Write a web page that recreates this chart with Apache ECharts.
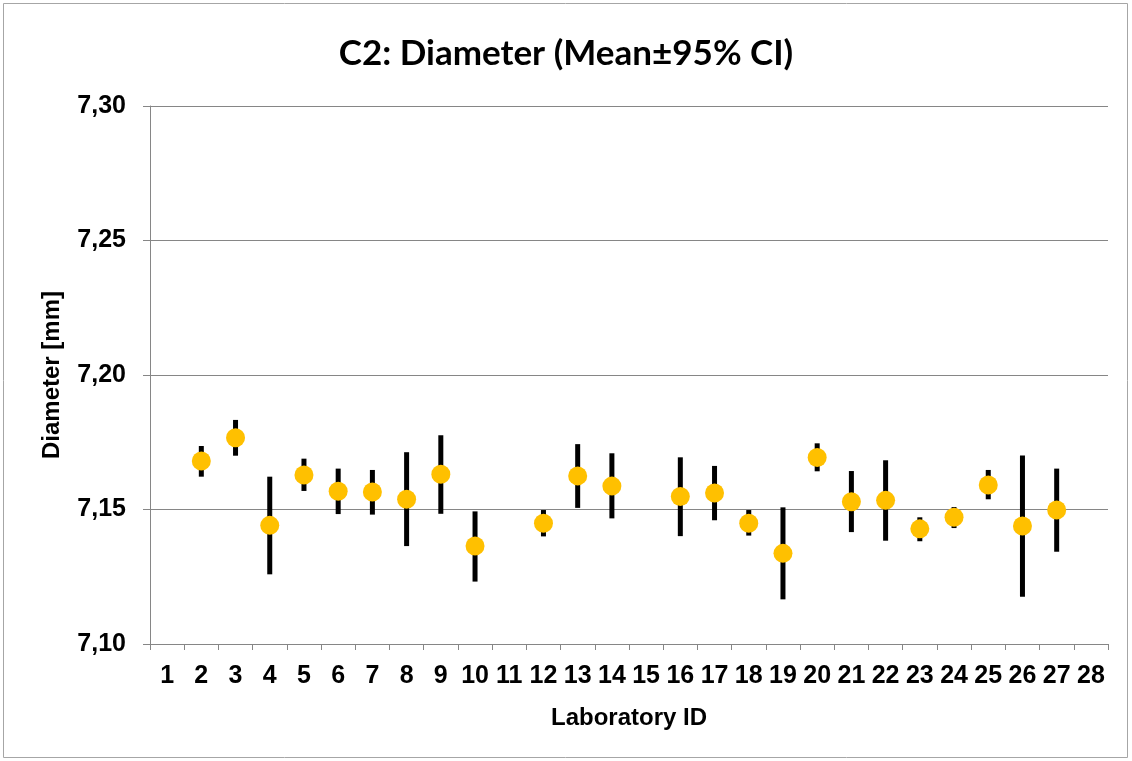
<!DOCTYPE html>
<html><head><meta charset="utf-8">
<script src="https://cdn.jsdelivr.net/npm/echarts@6/dist/echarts.min.js"></script>
<style>html,body{margin:0;padding:0;background:#fff}#c{width:1132px;height:761px}</style>
</head><body><div id="c"></div>
<script>
var labs = ['1','2','3','4','5','6','7','8','9','10','11','12','13','14','15','16','17','18','19','20','21','22','23','24','25','26','27','28'];
var means = [null,7.1680,7.1767,7.1441,7.1628,7.1568,7.1565,7.1538,7.1631,7.1364,null,7.1449,7.1625,7.1587,null,7.1548,7.1561,7.1449,7.1337,7.1693,7.1529,7.1534,7.1428,7.1471,7.1591,7.1439,7.1498,null];
var upper = [null,7.1736,7.1833,7.1622,7.1689,7.1652,7.1647,7.1713,7.1776,7.1493,null,7.1498,7.1743,7.1709,null,7.1694,7.1662,7.1498,7.1508,7.1746,7.1643,7.1683,7.1471,7.1509,7.1647,7.1701,7.1652,null];
var lower = [null,7.1622,7.1700,7.1259,7.1569,7.1483,7.1481,7.1364,7.1484,7.1232,null,7.1400,7.1506,7.1467,null,7.1401,7.1460,7.1403,7.1166,7.1642,7.1416,7.1384,7.1382,7.1431,7.1538,7.1176,7.1343,null];
var yTicks = [7.10,7.15,7.20,7.25,7.30];

var errData = [];
for (var i=0;i<labs.length;i++){ if(means[i]!==null) errData.push([i, lower[i], upper[i]]); }
var meanData = [];
for (var j=0;j<labs.length;j++){ if(means[j]!==null) meanData.push([j, means[j]]); }

var font = '"Liberation Sans", Arial, sans-serif';
var chart = echarts.init(document.getElementById('c'), null, {renderer:'canvas'});
chart.setOption({
  backgroundColor:'#fff',
  animation:false,
  graphic:[{type:'rect', shape:{x:3.5,y:3.5,width:1124,height:754}, style:{fill:'none', stroke:'#a6a6a6', lineWidth:1}}],
  title:{text:'C2: Diameter (Mean\u00b195% CI)', left:'center', top:31,
    textStyle:{fontFamily:'Lato, "Open Sans", sans-serif', fontWeight:'bold', fontSize:35, color:'#000'}},
  grid:{left:150, right:24, top:106, bottom:117},
  xAxis:{type:'category', data:labs, boundaryGap:true,
    name:'Laboratory ID', nameLocation:'middle', nameGap:62,
    nameTextStyle:{fontFamily:font, fontWeight:'bold', fontSize:24, color:'#000'},
    axisLine:{lineStyle:{color:'#868686', width:1}},
    axisTick:{show:true, length:6, lineStyle:{color:'#868686'}},
    axisLabel:{interval:0, margin:20, fontFamily:font, fontWeight:'bold', fontSize:25, color:'#000'},
    splitLine:{show:false}},
  yAxis:{type:'value', min:7.10, max:7.30, interval:0.05,
    name:'Diameter [mm]', nameLocation:'middle', nameGap:86,
    nameTextStyle:{fontFamily:font, fontWeight:'bold', fontSize:24, color:'#000'},
    axisLine:{show:true, lineStyle:{color:'#868686', width:1}},
    axisTick:{show:true, length:7, lineStyle:{color:'#868686'}},
    axisLabel:{margin:24, fontFamily:font, fontWeight:'bold', fontSize:25, color:'#000',
      formatter:function(v){ return v.toFixed(2).replace('.', ','); }},
    splitLine:{show:true, lineStyle:{color:'#868686', width:1}}},
  series:[
    {type:'custom', data:errData, z:2,
      renderItem:function(params, api){
        var p1 = api.coord([api.value(0), api.value(1)]);
        var p2 = api.coord([api.value(0), api.value(2)]);
        return {type:'line', shape:{x1:p1[0], y1:p1[1], x2:p2[0], y2:p2[1]},
          style:{stroke:'#000', lineWidth:5}};
      },
      encode:{x:0, y:[1,2]}},
    {type:'scatter', data:meanData, z:3, symbol:'circle', symbolSize:19,
      itemStyle:{color:'#FFC000', opacity:1}}
  ]
});
</script></body></html>
